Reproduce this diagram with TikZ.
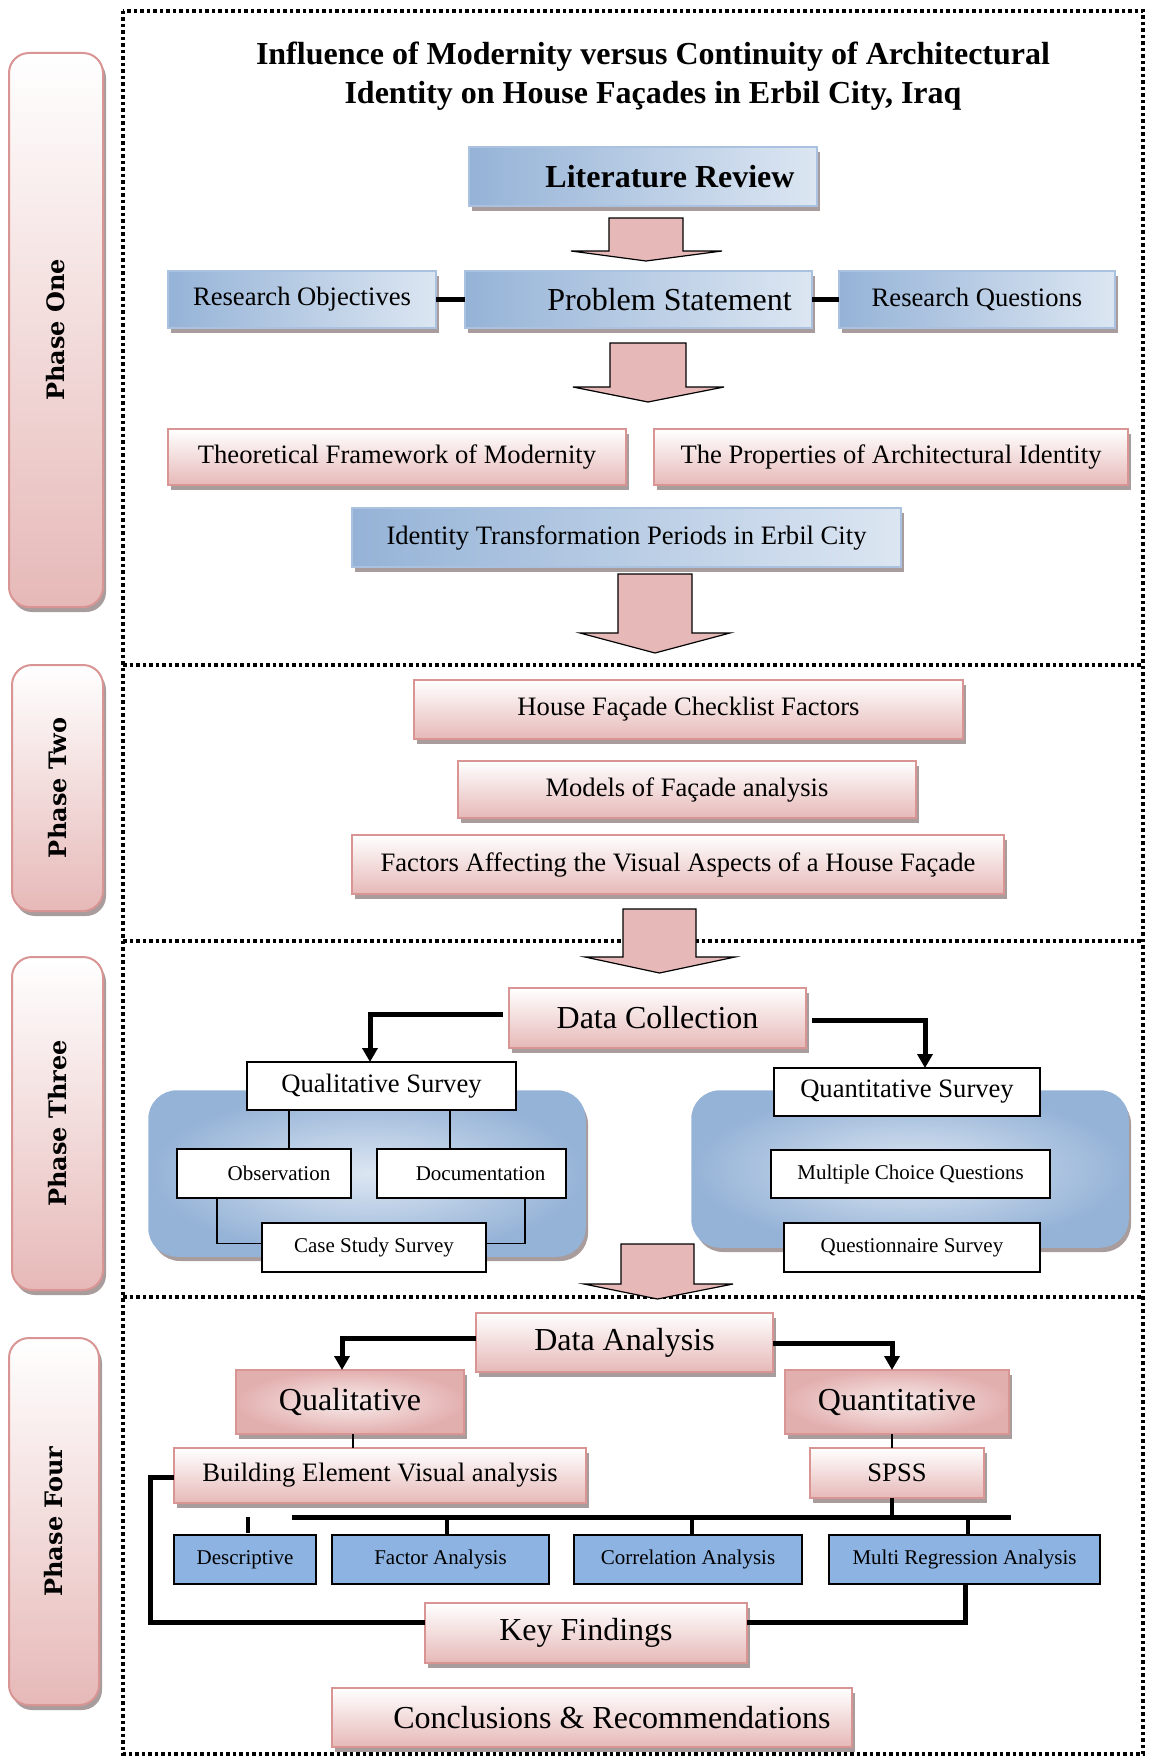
\documentclass[tikz,border=0pt]{standalone}
\usepackage{fontspec}
\setmainfont{Liberation Serif}
\newfontfamily\phasefont{DejaVu Serif}
\usetikzlibrary{shadows,arrows.meta,calc}
\definecolor{pinkb}{HTML}{D99594}
\definecolor{pinkf}{HTML}{E6B9B8}
\definecolor{pinkl}{HTML}{F9EDED}
\definecolor{blueb}{HTML}{95B3D7}
\definecolor{bluel}{HTML}{DCE6F2}
\definecolor{blued}{HTML}{8DB3E2}
\definecolor{shad}{HTML}{A89C9C}
\newcommand{\fbig}{\fontsize{32}{37}\selectfont}
\newcommand{\fmid}{\fontsize{26.6}{31}\selectfont}
\newcommand{\fsml}{\fontsize{21}{25}\selectfont}
\newcommand{\mkarrow}[7]{\draw[blockarr] (#1,#3) -- (#2,#3) -- (#2,#4) -- (#6,#4) -- ({(#1+#2)/2},#7) -- (#5,#4) -- (#1,#4) -- cycle;}
\tikzset{
 base/.style={inner sep=0pt, outer sep=0pt, align=center},
 shd/.style={drop shadow={shadow xshift=3pt, shadow yshift=-5pt, fill=shad, opacity=1}},
 pbox/.style={base, shd, draw=pinkb, line width=1.8pt, top color=white, bottom color=pinkf},
 rbox/.style={base, shd, draw=pinkb, line width=1.8pt, inner color=pinkl, outer color=pinkb!75},
 bbox/.style={base, shd, draw=blueb!80, line width=1.8pt, left color=blueb, right color=bluel},
 wbox/.style={base, draw=black, line width=1.5pt, fill=white},
 sbox/.style={base, draw=black, line width=1.8pt, fill=blued},
 bgbox/.style={base, shd, draw=blueb, line width=1.5pt, rounded corners=28pt, inner color=bluel, outer color=blueb},
 pill/.style={base, shd, draw=pinkb, line width=2pt, rounded corners=20pt, top color=white, bottom color=pinkf},
 phasetxt/.style={rotate=90, font=\phasefont\bfseries\fontsize{24}{28}\selectfont},
 frame/.style={line width=3.5pt, dash pattern=on 3.5pt off 3pt},
 blockarr/.style={draw=black, line width=1.2pt, fill=pinkf, line join=miter},
 thk/.style={line width=5pt},
 elb/.style={line width=5pt, -{Triangle[length=14pt,width=15pt]}},
 thn/.style={line width=1.5pt},
}
\begin{document}
\begin{tikzpicture}[x=1pt,y=-1pt]
\useasboundingbox (0,0) rectangle (1149,1758);
% frame
\draw[frame] (123,11) rectangle (1143,1754);
\draw[frame] (123,665) -- (1143,665);
\draw[frame] (123,941) -- (1143,941);
\draw[frame] (123,1297) -- (1143,1297);
% phase pills
\node[pill, minimum width=94pt, minimum height=554pt] (p1) at (56,330) {};
\node[phasetxt] at (p1) {Phase One};
\node[pill, minimum width=91pt, minimum height=246pt] (p2) at (57.5,788) {};
\node[phasetxt] at (p2) {Phase Two};
\node[pill, minimum width=91pt, minimum height=333pt] (p3) at (57.5,1123.5) {};
\node[phasetxt] at (p3) {Phase Three};
\node[pill, minimum width=90pt, minimum height=367pt] (p4) at (54,1521.5) {};
\node[phasetxt] at (p4) {Phase Four};
% title
\node[base, font=\fontsize{32}{39}\selectfont\bfseries] (title) at (653,76)
 {Influence of Modernity versus Continuity of Architectural\\Identity on House Façades in Erbil City, Iraq};
% phase one
\node[bbox, minimum width=348pt, minimum height=59pt, font=\fbig\bfseries] (lit) at (643,176.5) {\hspace*{54pt}Literature Review};
\node[bbox, minimum width=268pt, minimum height=57pt, font=\fmid] (ro) at (302,299.5) {Research Objectives};
\node[bbox, minimum width=347pt, minimum height=57pt, font=\fbig] (ps) at (638.5,299.5) {\hspace*{62pt}Problem Statement};
\node[bbox, minimum width=276pt, minimum height=57pt, font=\fmid] (rq) at (977,299.5) {Research Questions};
\draw[thk] (ro.east) -- (ps.west);
\draw[thk] (ps.east) -- (rq.west);
\node[pbox, minimum width=458pt, minimum height=56pt, font=\fmid] (tf) at (397,457) {Theoretical Framework of Modernity};
\node[pbox, minimum width=474pt, minimum height=56pt, font=\fmid] (pa) at (891,457) {The Properties of Architectural Identity};
\node[bbox, minimum width=549pt, minimum height=59pt, font=\fmid] (it) at (626.5,537.5) {Identity Transformation Periods in Erbil City};
\mkarrow{609}{683}{218}{251}{571}{722}{261}
\mkarrow{610}{686}{343}{387}{573}{724}{402}
\mkarrow{618}{692}{574}{633}{580}{730}{653}
% phase two
\node[pbox, minimum width=549pt, minimum height=59pt, font=\fmid] (hf) at (688.5,709.5) {House Façade Checklist Factors};
\node[pbox, minimum width=458pt, minimum height=57pt, font=\fmid] (mo) at (687,789.5) {Models of Façade analysis};
\node[pbox, minimum width=652pt, minimum height=59pt, font=\fmid] (fa) at (678,864.5) {Factors Affecting the Visual Aspects of a House Façade};
\mkarrow{623}{696}{909}{957}{585}{735}{973}
% phase three
\node[pbox, minimum width=297pt, minimum height=60pt, font=\fbig] (dc) at (657.5,1018) {Data Collection};
\node[bgbox, minimum width=436pt, minimum height=165pt] (lbg) at (367,1173.5) {};
\node[bgbox, minimum width=436pt, minimum height=156pt] (rbg) at (910,1169) {};
\node[wbox, minimum width=269pt, minimum height=48pt, font=\fmid] (qs) at (381.5,1086) {Qualitative Survey};
\node[wbox, minimum width=174pt, minimum height=49pt, font=\fsml] (ob) at (264,1173.5) {\hspace*{30pt}Observation};
\node[wbox, minimum width=189pt, minimum height=49pt, font=\fsml] (do) at (471.5,1173.5) {\hspace*{18pt}Documentation};
\node[wbox, minimum width=224pt, minimum height=49pt, font=\fsml] (cs) at (374,1247.5) {Case Study Survey};
\node[wbox, minimum width=266pt, minimum height=48pt, font=\fmid] (qn) at (907,1092) {Quantitative Survey};
\node[wbox, minimum width=279pt, minimum height=48pt, font=\fsml] (mc) at (910.5,1174) {Multiple Choice Questions};
\node[wbox, minimum width=256pt, minimum height=49pt, font=\fsml] (qq) at (912,1247.5) {Questionnaire Survey};
\draw[elb] ($(dc.west)+(-6,-4)$) -| ($(qs.north)+(-11.5,0)$);
\draw[elb] ($(dc.east)+(6,2)$) -| ($(qn.north)+(18,0)$);
\draw[thn] ($(qs.south)+(-92.5,0)$) -- ($(ob.north)+(25,0)$);
\draw[thn] ($(qs.south)+(68.5,0)$) -- ($(do.north)+(-21.5,0)$);
\draw[thn] ($(ob.south)+(-47,0)$) |- ($(cs.west)+(0,-4)$);
\draw[thn] ($(do.south)+(53.5,0)$) |- ($(cs.east)+(0,-4)$);
\mkarrow{621}{694}{1244}{1284}{584}{733}{1299}
% phase four
\node[pbox, minimum width=297pt, minimum height=59pt, font=\fbig] (da) at (624.5,1342.5) {Data Analysis};
\node[rbox, minimum width=228pt, minimum height=64pt, font=\fbig] (ql) at (350,1402) {Qualitative};
\node[rbox, minimum width=224pt, minimum height=64pt, font=\fbig] (qt) at (897,1402) {Quantitative};
\node[pbox, minimum width=412pt, minimum height=55pt, font=\fmid] (bv) at (380,1475.5) {Building Element Visual analysis};
\node[pbox, minimum width=174pt, minimum height=50pt, font=\fmid] (sp) at (897,1473) {SPSS};
\node[sbox, minimum width=142pt, minimum height=49pt, font=\fsml] (de) at (245,1559.5) {Descriptive};
\node[sbox, minimum width=217pt, minimum height=49pt, font=\fsml] (fc) at (440.5,1559.5) {Factor Analysis};
\node[sbox, minimum width=228pt, minimum height=49pt, font=\fsml] (co) at (688,1559.5) {Correlation Analysis};
\node[sbox, minimum width=271pt, minimum height=49pt, font=\fsml] (mr) at (964.5,1559.5) {Multi Regression Analysis};
\node[pbox, minimum width=322pt, minimum height=60pt, font=\fbig] (kf) at (586,1633) {Key Findings};
\node[pbox, minimum width=520pt, minimum height=59pt, font=\fbig] (cr) at (592,1717.5) {\hspace*{40pt}Conclusions \& Recommendations};
\draw[elb] ($(da.west)+(0,-4.5)$) -| ($(ql.north)+(-8,0)$);
\draw[elb] ($(da.east)+(0,0.5)$) -| ($(qt.north)+(-5,0)$);
\draw[line width=2pt] ($(ql.south)+(3,0)$) -- ($(bv.north)+(-27,0)$);
\draw[line width=2pt] ($(qt.south)+(-5,0)$) -- ($(sp.north)+(-5,0)$);
\coordinate (busL) at (292,1517);
\coordinate (busR) at (1011,1517);
\coordinate (busS) at (892,1517);
\draw[thk] (busL) -- (busR);
\draw[line width=3.5pt] ($(sp.south)+(-5,0)$) -- (busS);
\draw[line width=4pt] ($(fc.north)+(6.5,0)$) -- ++(0,-18);
\draw[line width=4pt] ($(co.north)+(4,0)$) -- ++(0,-18);
\draw[line width=4pt] ($(mr.north)+(3.5,0)$) -- ++(0,-18);
\draw[line width=4pt] ($(de.north)+(3,-2)$) -- ++(0,-16);
\draw[thk] ($(bv.west)+(0,1.5)$) -- ++(-24,0) |- ($(kf.west)+(0,-11)$);
\draw[thk] ($(mr.south)+(0.5,0)$) |- ($(kf.east)+(0,-11)$);
\end{tikzpicture}
\end{document}
